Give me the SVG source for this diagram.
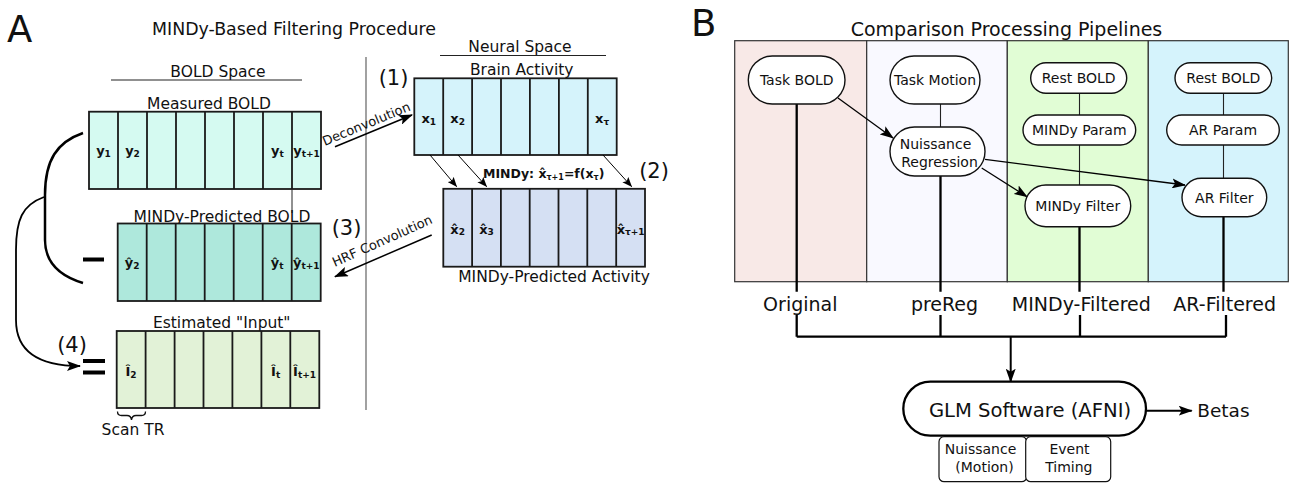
<svg xmlns="http://www.w3.org/2000/svg" width="1290" height="483" viewBox="0 0 1290 483">
<style>
text{font-family:"DejaVu Sans","Liberation Sans",sans-serif;fill:#111}
.big{font-size:37px}
.title{font-size:17.4px}
.lbl{font-size:15.5px}
.num{font-size:21px}
.cl{font-size:13px;font-weight:bold}
.sub{font-size:9px}
.rot{font-size:13px}
.node{font-size:14px}
.out{font-size:19px}
.cell{stroke:#1a1a1a;stroke-width:1.8}
.thin{stroke:#222;stroke-width:1.1;fill:none}
.thick{stroke:#000;stroke-width:2.3;fill:none}
.pill{fill:#fff;stroke:#111;stroke-width:1.4}
</style>
<defs>
<marker id="ah" viewBox="0 0 14 10" refX="13" refY="5" markerWidth="14" markerHeight="10" orient="auto" markerUnits="userSpaceOnUse"><path d="M0,0 L14,5 L0,10 L3,5 z" fill="#000"/></marker>
<marker id="ahs" viewBox="0 0 10 8" refX="9.5" refY="4" markerWidth="10" markerHeight="8" orient="auto" markerUnits="userSpaceOnUse"><path d="M0,0 L10,4 L0,8 L2,4 z" fill="#000"/></marker>
</defs>

<!-- Panel A -->
<text class="big" x="7" y="42">A</text>
<text class="title" x="294" y="35" text-anchor="middle">MINDy-Based Filtering Procedure</text>
<text class="lbl" x="218" y="77" text-anchor="middle">BOLD Space</text>
<line x1="111" y1="80" x2="302" y2="80" stroke="#222" stroke-width="1.1"/>
<text class="lbl" x="520" y="52" text-anchor="middle">Neural Space</text>
<line x1="440" y1="55.5" x2="606" y2="55.5" stroke="#222" stroke-width="1.1"/>
<line x1="366" y1="57" x2="366" y2="410" stroke="#555" stroke-width="1.1"/>

<g id="measured-bold">
<text class="lbl" x="209" y="109" text-anchor="middle">Measured BOLD</text>
<rect class="cell" x="89" y="111.7" width="232" height="77.3" fill="#d5faf1"/>
<path class="cell" d="M118,111.7V189M147,111.7V189M176,111.7V189M205,111.7V189M234,111.7V189M263,111.7V189M292,111.7V189"/>
<text class="cl" x="103.5" y="155" text-anchor="middle">y<tspan class="sub" dy="1.5">1</tspan></text>
<text class="cl" x="132.5" y="155" text-anchor="middle">y<tspan class="sub" dy="1.5">2</tspan></text>
<text class="cl" x="277.5" y="155" text-anchor="middle">y<tspan class="sub" dy="1.5">t</tspan></text>
<text class="cl" x="306.5" y="155" text-anchor="middle">y<tspan class="sub" dy="1.5">t+1</tspan></text>
</g>
<line x1="292" y1="189" x2="292" y2="213" stroke="#222" stroke-width="1"/>

<g id="mindy-pred-bold">
<text class="lbl" x="222" y="221.5" text-anchor="middle">MINDy-Predicted BOLD</text>
<rect class="cell" x="117.7" y="223.5" width="203" height="77.5" fill="#aee8dc"/>
<path class="cell" d="M146.7,223.5V301M175.7,223.5V301M204.7,223.5V301M233.7,223.5V301M262.7,223.5V301M291.7,223.5V301"/>
<text class="cl" x="132.2" y="267" text-anchor="middle">ŷ<tspan class="sub" dy="1.5">2</tspan></text>
<text class="cl" x="277.2" y="267" text-anchor="middle">ŷ<tspan class="sub" dy="1.5">t</tspan></text>
<text class="cl" x="306.2" y="267" text-anchor="middle">ŷ<tspan class="sub" dy="1.5">t+1</tspan></text>
</g>

<g id="estimated-input">
<text class="lbl" x="221.7" y="327.5" text-anchor="middle">Estimated "Input"</text>
<rect class="cell" x="116.7" y="331" width="202.6" height="77" fill="#e2f2d7"/>
<path class="cell" d="M145.6,331V408M174.6,331V408M203.5,331V408M232.4,331V408M261.4,331V408M290.3,331V408"/>
<text class="cl" x="131" y="376" text-anchor="middle">Î<tspan class="sub" dy="1.5">2</tspan></text>
<text class="cl" x="275.7" y="376" text-anchor="middle">Î<tspan class="sub" dy="1.5">t</tspan></text>
<text class="cl" x="304.6" y="376" text-anchor="middle">Î<tspan class="sub" dy="1.5">t+1</tspan></text>
</g>
<path d="M117.5,411.5 q0,4 4,4 h5.5 q4,0 4.5,4.5 q0.5,-4.5 4.5,-4.5 h5.5 q4,0 4,-4" fill="none" stroke="#111" stroke-width="1.3"/>
<text class="lbl" x="133" y="435" text-anchor="middle">Scan TR</text>

<g id="brain-activity">
<text class="num" x="393.5" y="85" text-anchor="middle">(1)</text>
<text class="lbl" x="521.7" y="75" text-anchor="middle">Brain Activity</text>
<rect class="cell" x="414.3" y="78.3" width="202.4" height="76.7" fill="#d5f3fb"/>
<path class="cell" d="M443.2,78.3V155M472.1,78.3V155M501,78.3V155M529.9,78.3V155M558.9,78.3V155M587.8,78.3V155"/>
<text class="cl" x="428.8" y="123" text-anchor="middle">x<tspan class="sub" dy="1.5">1</tspan></text>
<text class="cl" x="457.7" y="123" text-anchor="middle">x<tspan class="sub" dy="1.5">2</tspan></text>
<text class="cl" x="602.1" y="123" text-anchor="middle">x<tspan class="sub" dy="1.5">τ</tspan></text>
</g>

<g id="mindy-pred-activity">
<rect class="cell" x="443.3" y="188.8" width="201.7" height="77.9" fill="#d5e0f3"/>
<path class="cell" d="M472.1,188.8V266.7M500.9,188.8V266.7M529.7,188.8V266.7M558.5,188.8V266.7M587.3,188.8V266.7M616.2,188.8V266.7"/>
<text class="cl" x="457.7" y="233.5" text-anchor="middle">x̂<tspan class="sub" dy="1.5">2</tspan></text>
<text class="cl" x="486.5" y="233.5" text-anchor="middle">x̂<tspan class="sub" dy="1.5">3</tspan></text>
<text class="cl" x="630.6" y="233.5" text-anchor="middle">x̂<tspan class="sub" dy="1.5">τ+1</tspan></text>
<text class="lbl" x="554" y="282" text-anchor="middle">MINDy-Predicted Activity</text>
</g>

<g id="connectors-a">
<line x1="335" y1="146.7" x2="412" y2="115" stroke="#000" stroke-width="1.5" marker-end="url(#ah)"/>
<text class="rot" x="368" y="128" text-anchor="middle" transform="rotate(-22.5 368 128)">Deconvolution</text>
<line x1="430" y1="155" x2="456.7" y2="186.7" stroke="#000" stroke-width="1" marker-end="url(#ahs)"/>
<line x1="458" y1="155" x2="486.7" y2="186.7" stroke="#000" stroke-width="1" marker-end="url(#ahs)"/>
<line x1="603" y1="155" x2="631.7" y2="186.7" stroke="#000" stroke-width="1" marker-end="url(#ahs)"/>
<text class="cl" x="483" y="178" style="font-size:12.5px">MINDy: x̂<tspan class="sub" dy="1.5" style="font-size:8px">τ+1</tspan><tspan dy="-1.5">=f(x</tspan><tspan class="sub" dy="1.5" style="font-size:8px">τ</tspan><tspan dy="-1.5">)</tspan></text>
<text class="num" x="654" y="178" text-anchor="middle">(2)</text>
<text class="num" x="346.5" y="235" text-anchor="middle">(3)</text>
<line x1="431.7" y1="235" x2="335" y2="276.7" stroke="#000" stroke-width="1.5" marker-end="url(#ah)"/>
<text class="rot" x="384" y="245" text-anchor="middle" transform="rotate(-24 384 245)">HRF Convolution</text>
<path d="M83,133 C57,142 45,160 45,195 L45,240 C45,262 60,276 83,283" fill="none" stroke="#000" stroke-width="2.5"/>
<path d="M44,197 C22,205 16,220 16,250 L16,320 C16,352 40,366 80,366" fill="none" stroke="#000" stroke-width="1.8" marker-end="url(#ah)"/>
<line x1="83" y1="259.5" x2="104" y2="259.5" stroke="#000" stroke-width="4"/>
<line x1="83" y1="361" x2="105" y2="361" stroke="#000" stroke-width="4"/>
<line x1="83" y1="372.5" x2="105" y2="372.5" stroke="#000" stroke-width="4"/>
<text class="num" x="72" y="352" text-anchor="middle">(4)</text>
</g>

<!-- Panel B -->
<text class="big" x="691" y="36">B</text>
<text class="title" x="1006.5" y="36" text-anchor="middle" style="font-size:19px">Comparison Processing Pipelines</text>
<g id="lanes">
<rect x="734.7" y="40.7" width="132" height="241" fill="#f8e9e7" stroke="#333" stroke-width="1.2"/>
<rect x="866.7" y="40.7" width="140.6" height="241" fill="#f9f9ff" stroke="#333" stroke-width="1.2"/>
<rect x="1007.3" y="40.7" width="141" height="241" fill="#e1fdd5" stroke="#333" stroke-width="1.2"/>
<rect x="1148.3" y="40.7" width="140" height="241" fill="#d5f3fc" stroke="#333" stroke-width="1.2"/>
</g>

<g id="connectors-b">
<path class="thick" d="M796.7,104V291.7M796.7,315V336.7M940.5,176V291.7M940.5,315V336.7M1079.5,226.7V291.7M1080,315V336.7M1223.5,216.7V291.7M1226,315V336.7M796.7,336.7H1226"/>
<path class="thin" d="M940.5,104V127M1079.5,93.3V115M1079.5,145V185M1223.5,93.3V115M1223.5,145V178.3"/>
<line x1="838" y1="98" x2="893" y2="138" stroke="#000" stroke-width="1.3" marker-end="url(#ah)"/>
<line x1="981.7" y1="168" x2="1027" y2="196.7" stroke="#000" stroke-width="1.3" marker-end="url(#ah)"/>
<line x1="985" y1="159.3" x2="1185" y2="185" stroke="#000" stroke-width="1.3" marker-end="url(#ah)"/>
<line x1="1010.7" y1="336.7" x2="1010.7" y2="381.7" stroke="#000" stroke-width="2" marker-end="url(#ah)"/>
<line x1="1146" y1="410.7" x2="1191.7" y2="410.7" stroke="#000" stroke-width="2" marker-end="url(#ah)"/>
</g>

<g id="task-bold"><rect class="pill" x="748.3" y="56" width="96.7" height="48" rx="24"/><text class="node" x="796.7" y="85" text-anchor="middle">Task BOLD</text></g>
<g id="task-motion"><rect class="pill" x="890" y="56" width="90" height="48" rx="24"/><text class="node" x="935" y="85" text-anchor="middle">Task Motion</text></g>
<g id="nuisance-reg"><rect class="pill" x="890" y="127" width="95" height="49" rx="24.5"/><text class="node" x="935.5" y="149" text-anchor="middle">Nuissance</text><text class="node" x="939.5" y="166.7" text-anchor="middle">Regression</text></g>
<g id="rest-bold-1"><rect class="pill" x="1030.7" y="62.7" width="96" height="30.6" rx="15.3"/><text class="node" x="1078.7" y="83" text-anchor="middle">Rest BOLD</text></g>
<g id="mindy-param"><rect class="pill" x="1023" y="115" width="112.7" height="30" rx="15"/><text class="node" x="1079.3" y="135" text-anchor="middle">MINDy Param</text></g>
<g id="mindy-filter"><rect class="pill" x="1025" y="185" width="105.7" height="41.7" rx="20.8"/><text class="node" x="1077.8" y="210.8" text-anchor="middle">MINDy Filter</text></g>
<g id="rest-bold-2"><rect class="pill" x="1175" y="62.7" width="96.7" height="30.6" rx="15.3"/><text class="node" x="1223.3" y="83" text-anchor="middle">Rest BOLD</text></g>
<g id="ar-param"><rect class="pill" x="1166.7" y="115" width="112.6" height="30" rx="15"/><text class="node" x="1223" y="135" text-anchor="middle">AR Param</text></g>
<g id="ar-filter"><rect class="pill" x="1182" y="178.3" width="84.7" height="38.4" rx="19.2"/><text class="node" x="1224.3" y="202.5" text-anchor="middle">AR Filter</text></g>

<g id="labels-out">
<text class="out" x="800.3" y="310.7" text-anchor="middle">Original</text>
<text class="out" x="944.5" y="310.7" text-anchor="middle">preReg</text>
<text class="out" x="1081.3" y="310.7" text-anchor="middle">MINDy-Filtered</text>
<text class="out" x="1224.7" y="310.7" text-anchor="middle">AR-Filtered</text>
</g>

<g id="glm"><rect x="903.3" y="381.7" width="242.7" height="54" rx="27" fill="#fff" stroke="#000" stroke-width="2.3"/><text class="out" x="1030" y="417" text-anchor="middle" style="font-size:19.6px">GLM Software (AFNI)</text></g>
<g id="betas"><text class="out" x="1197.3" y="417" style="font-size:18.5px">Betas</text></g>
<g id="nuisance-motion"><rect x="939" y="436.7" width="87.7" height="45" rx="5" fill="#fff" stroke="#111" stroke-width="1.2"/><text class="node" x="980.5" y="454.3" text-anchor="middle">Nuissance</text><text class="node" x="984.5" y="472.3" text-anchor="middle">(Motion)</text></g>
<g id="event-timing"><rect x="1025.7" y="436.7" width="85" height="45" rx="5" fill="#fff" stroke="#111" stroke-width="1.2"/><text class="node" x="1069.5" y="454.3" text-anchor="middle">Event</text><text class="node" x="1068.8" y="472.3" text-anchor="middle">Timing</text></g>
</svg>
